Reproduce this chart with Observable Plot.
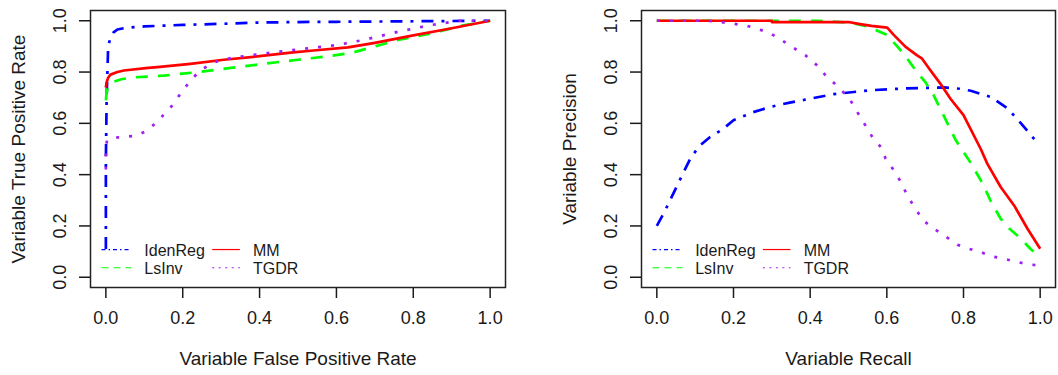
<!DOCTYPE html>
<html><head><meta charset="utf-8">
<script src="https://cdn.jsdelivr.net/npm/d3@7"></script>
<script src="https://cdn.jsdelivr.net/npm/@observablehq/plot@0.6"></script>
<style>
html,body{margin:0;padding:0;background:#fff;}
#wrap{display:flex;width:1058px;height:375px;}
#wrap > div{width:529px;height:375px;}
svg{display:block}
</style></head><body><div id="wrap"><div id="left"></div><div id="right"></div></div>
<script>
const seriesNames = ["IdenReg", "LsInv", "MM", "TGDR"];
const tickValues = [0, 0.2, 0.4, 0.6, 0.8, 1.0];
const leftXLabel = "Variable False Positive Rate";
const leftYLabel = "Variable True Positive Rate";
const rightXLabel = "Variable Recall";
const rightYLabel = "Variable Precision";

// ROC panel (false positive rate, true positive rate)
const rocIdenRegFpr = [0, 0, 0.002, 0.004, 0.006, 0.012, 0.02, 0.03, 0.05, 0.1, 0.2, 0.3, 0.4, 0.5, 0.6, 0.7, 0.8, 0.9, 1.0];
const rocIdenRegTpr = [0.11, 0.45, 0.7, 0.8, 0.9, 0.935, 0.955, 0.966, 0.972, 0.978, 0.984, 0.988, 0.993, 0.995, 0.996, 0.997, 0.998, 0.999, 1.0];
const rocLsInvFpr = [0, 0.002, 0.005, 0.01, 0.02, 0.04, 0.07, 0.15, 0.24, 0.33, 0.41, 0.5, 0.58, 0.64, 0.7, 0.76, 0.85, 0.93, 1.0];
const rocLsInvTpr = [0.69, 0.72, 0.74, 0.75, 0.762, 0.772, 0.779, 0.786, 0.8, 0.817, 0.832, 0.848, 0.862, 0.875, 0.9, 0.925, 0.952, 0.982, 1.0];
const rocMMFpr = [0, 0.002, 0.006, 0.012, 0.03, 0.047, 0.11, 0.134, 0.22, 0.307, 0.394, 0.481, 0.54, 0.63, 0.7, 0.8, 0.89, 1.0];
const rocMMTpr = [0.74, 0.76, 0.778, 0.79, 0.8, 0.806, 0.816, 0.819, 0.832, 0.848, 0.861, 0.876, 0.884, 0.896, 0.914, 0.943, 0.968, 1.0];
const rocTGDRFpr = [0, 0, 0.003, 0.03, 0.08, 0.105, 0.125, 0.145, 0.17, 0.195, 0.22, 0.245, 0.28, 0.325, 0.41, 0.5, 0.6, 0.67, 0.76, 0.845, 0.92, 1.0];
const rocTGDRTpr = [0.42, 0.5, 0.535, 0.545, 0.552, 0.57, 0.595, 0.625, 0.665, 0.717, 0.767, 0.805, 0.838, 0.855, 0.872, 0.888, 0.905, 0.925, 0.957, 0.983, 1.0, 1.0];

// Precision-recall panel (recall, precision)
const prIdenRegRecall = [0, 0.02, 0.047, 0.07, 0.09, 0.113, 0.139, 0.17, 0.2, 0.25, 0.296, 0.35, 0.392, 0.462, 0.557, 0.645, 0.749, 0.79, 0.819, 0.871, 0.915, 0.95, 0.995];
const prIdenRegPrecision = [0.2, 0.255, 0.339, 0.41, 0.47, 0.514, 0.547, 0.575, 0.612, 0.643, 0.664, 0.682, 0.694, 0.714, 0.729, 0.736, 0.74, 0.735, 0.727, 0.703, 0.658, 0.6, 0.52];
const prLsInvRecall = [0, 0.3, 0.42, 0.5, 0.55, 0.6, 0.63, 0.653, 0.675, 0.7, 0.722, 0.75, 0.78, 0.797, 0.82, 0.85, 0.87, 0.897, 0.92, 0.95, 0.975, 1.0];
const prLsInvPrecision = [1.0, 1.0, 1.0, 0.993, 0.978, 0.945, 0.895, 0.853, 0.807, 0.762, 0.71, 0.625, 0.534, 0.495, 0.443, 0.365, 0.3, 0.228, 0.189, 0.15, 0.11, 0.078];
const prMMRecall = [0, 0.3, 0.3, 0.5, 0.53, 0.56, 0.601, 0.618, 0.649, 0.679, 0.692, 0.714, 0.74, 0.766, 0.8, 0.845, 0.862, 0.897, 0.932, 0.967, 1.0];
const prMMPrecision = [1.0, 1.0, 0.995, 0.995, 0.987, 0.98, 0.973, 0.945, 0.898, 0.865, 0.852, 0.806, 0.754, 0.696, 0.632, 0.5, 0.443, 0.352, 0.28, 0.189, 0.111];
const prTGDRRecall = [0, 0.13, 0.166, 0.231, 0.261, 0.294, 0.327, 0.357, 0.388, 0.418, 0.444, 0.475, 0.505, 0.523, 0.544, 0.562, 0.584, 0.597, 0.618, 0.639, 0.653, 0.675, 0.695, 0.723, 0.753, 0.784, 0.814, 0.845, 0.875, 0.906, 0.941, 0.969, 1.0];
const prTGDRPrecision = [1.0, 1.0, 0.995, 0.982, 0.969, 0.953, 0.923, 0.894, 0.865, 0.826, 0.78, 0.741, 0.69, 0.644, 0.592, 0.547, 0.508, 0.462, 0.417, 0.365, 0.319, 0.267, 0.221, 0.189, 0.159, 0.127, 0.111, 0.098, 0.081, 0.072, 0.059, 0.05, 0.046];

const styles = {
  IdenReg: {stroke: "#0000FF", dash: "12,8,3,8", legendDash: "4,3,1.5,3"},
  LsInv:   {stroke: "#00FF00", dash: "12,10", legendDash: "7,5"},
  MM:      {stroke: "#FF0000", dash: null, legendDash: null},
  TGDR:    {stroke: "#A020F0", dash: "3,10", legendDash: "2,4.5"}
};

const rocData = {
  IdenReg: [rocIdenRegFpr, rocIdenRegTpr],
  LsInv: [rocLsInvFpr, rocLsInvTpr],
  MM: [rocMMFpr, rocMMTpr],
  TGDR: [rocTGDRFpr, rocTGDRTpr]
};
const prData = {
  IdenReg: [prIdenRegRecall, prIdenRegPrecision],
  LsInv: [prLsInvRecall, prLsInvPrecision],
  MM: [prMMRecall, prMMPrecision],
  TGDR: [prTGDRRecall, prTGDRPrecision]
};

const FONT = "'Liberation Sans', Arial, Helvetica, sans-serif";

function panel(data, xLabel, yLabel, marginLeft, marginRight) {
  const lineMarks = seriesNames.map(name => {
    const [xs, ys] = data[name];
    const rows = xs.map((x, i) => ({x, y: ys[i]}));
    return Plot.line(rows, {x: "x", y: "y", stroke: styles[name].stroke, strokeWidth: 2.7,
      strokeDasharray: styles[name].dash ?? undefined, strokeLinecap: "butt", strokeLinejoin: "round"});
  });
  // legend: two columns, two rows (column-major like R)
  const legLineX = [[-0.01, 0.068], [0.278, 0.35]];
  const legTextX = [0.1, 0.383];
  const legRowY = [0.108, 0.037];
  const legendMarks = [];
  seriesNames.forEach((name, i) => {
    const col = Math.floor(i / 2), row = i % 2;
    legendMarks.push(Plot.ruleY([{y: legRowY[row], x1: legLineX[col][0], x2: legLineX[col][1]}],
      {y: "y", x1: "x1", x2: "x2", stroke: styles[name].stroke, strokeWidth: 1.2,
       strokeDasharray: styles[name].legendDash ?? undefined}));
    legendMarks.push(Plot.text([{x: legTextX[col], y: legRowY[row], label: name}],
      {x: "x", y: "y", text: "label", textAnchor: "start", lineAnchor: "middle", dy: 1.5, fontSize: 16}));
  });
  return Plot.plot({
    width: 529, height: 375, marginLeft, marginRight, marginTop: 10, marginBottom: 88,
    x: {domain: [-0.04, 1.04]},
    y: {domain: [-0.04, 1.04]},
    style: {fontFamily: FONT, color: "#1a1a1a", background: "#fff"},
    marks: [
      Plot.axisX(tickValues, {tickSize: 11, tickPadding: 13, tickFormat: ".1f", fontSize: 18, label: null, strokeWidth: 1.5}),
      Plot.axisY(tickValues, {tickSize: 11, tickFormat: () => "", label: null, strokeWidth: 1.5}),
      Plot.text(tickValues, {y: d => d, text: d => d.toFixed(1), frameAnchor: "left", textAnchor: "middle", dx: -30.5, rotate: -90, fontSize: 18, lineAnchor: "middle"}),
      Plot.text([yLabel], {text: d => d, frameAnchor: "left", textAnchor: "middle", dx: -72, rotate: -90, fontSize: 19, lineAnchor: "middle"}),
      Plot.text([xLabel], {text: d => d, frameAnchor: "bottom", textAnchor: "middle", dy: 71, fontSize: 19, lineAnchor: "middle"}),
      ...lineMarks,
      ...legendMarks,
      Plot.frame({stroke: "#222", strokeWidth: 1.5})
    ]
  });
}

document.getElementById("left").append(panel(rocData, leftXLabel, leftYLabel, 90, 24));
document.getElementById("right").append(panel(prData, rightXLabel, rightYLabel, 112, 3));
</script>
</body></html>
